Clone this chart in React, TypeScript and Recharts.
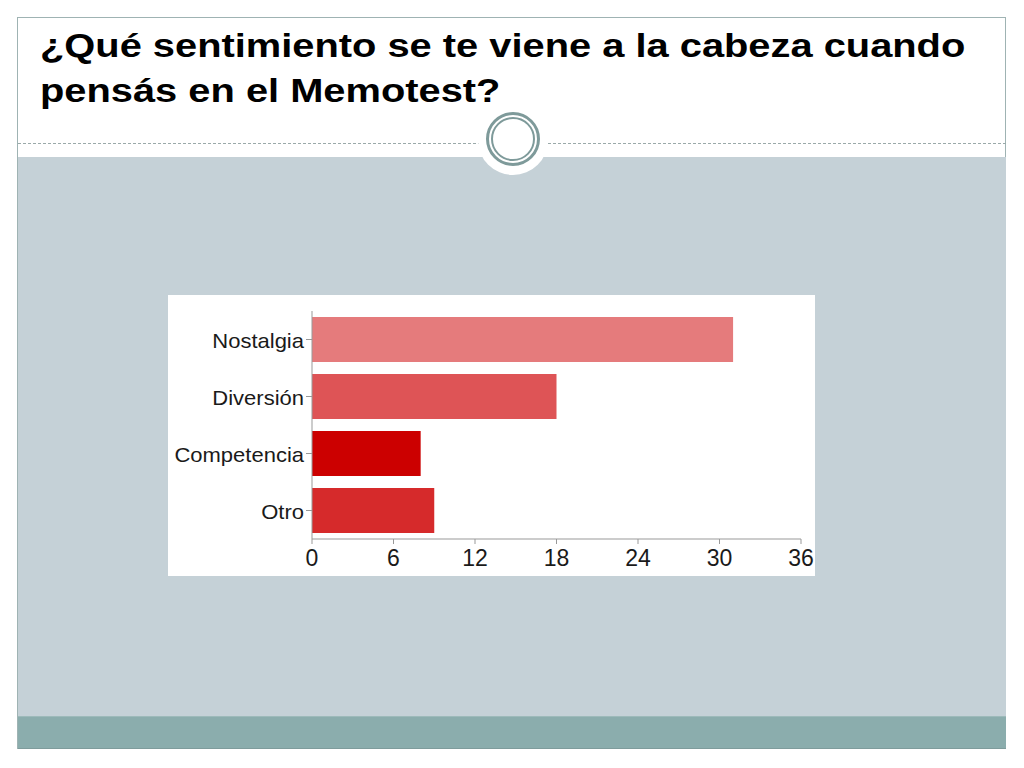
import { BarChart, Bar, XAxis, YAxis, Cell } from 'recharts'

const categories = ['Nostalgia', 'Diversión', 'Competencia', 'Otro']
const votes = [31, 18, 8, 9]
const barColors = ['#E57B7C', '#DE5456', '#CC0000', '#D62A2B']
const xTicks = [0, 6, 12, 18, 24, 30, 36]

const data = categories.map((name, i) => ({ name, value: votes[i] }))

const font = 'Liberation Sans, Arial, sans-serif'

// category labels look a bit stretched sideways in the source image
const CategoryTick = (props: any) => {
  const { x, y, payload } = props
  return (
    <text
      transform={`translate(${x},${y}) scale(1.1,1)`}
      textAnchor="end"
      dy={8}
      fill="#1a1a1a"
      fontSize={20}
      fontFamily={font}
    >
      {payload.value}
    </text>
  )
}

function App() {
  return (
    <div style={{ position: 'fixed', left: 0, top: 0, width: 1024, height: 768, background: '#fff', overflow: 'hidden' }}>
      {/* slide frame */}
      <div
        style={{
          position: 'absolute',
          left: 17,
          top: 17,
          width: 989,
          height: 732,
          border: '1px solid #9fb3b3',
          boxSizing: 'border-box',
          background: '#fff',
        }}
      />
      {/* gray body */}
      <div style={{ position: 'absolute', left: 18, top: 157, width: 988, height: 559, background: '#C5D1D7' }} />
      {/* teal footer */}
      <div
        style={{
          position: 'absolute',
          left: 18,
          top: 716,
          width: 988,
          height: 33,
          background: '#8BADAD',
          borderTop: '1px solid #9dbaba',
          borderBottom: '1px solid #7f9c9c',
          boxSizing: 'border-box',
        }}
      />
      {/* dotted separator */}
      <div style={{ position: 'absolute', left: 18, top: 143, width: 988, borderTop: '1px dashed #9aa9a9' }} />
      {/* circle ornament */}
      <div
        style={{
          position: 'absolute',
          left: 478,
          top: 105,
          width: 70,
          height: 70,
          borderRadius: '50%',
          background: '#fff',
        }}
      />
      <div
        style={{
          position: 'absolute',
          left: 486,
          top: 112,
          width: 54,
          height: 54,
          borderRadius: '50%',
          border: '3px solid #7E9A9A',
          boxSizing: 'border-box',
          background: '#fff',
        }}
      />
      <div
        style={{
          position: 'absolute',
          left: 491,
          top: 117,
          width: 44,
          height: 44,
          borderRadius: '50%',
          border: '2px solid #7E9A9A',
          boxSizing: 'border-box',
        }}
      />
      {/* title */}
      <div
        style={{
          position: 'absolute',
          left: 40,
          top: 23,
          width: 800,
          fontFamily: font,
          fontWeight: 'bold',
          fontSize: 33,
          lineHeight: '45px',
          color: '#000',
          whiteSpace: 'nowrap',
          transform: 'scaleX(1.207)',
          transformOrigin: 'left top',
        }}
      >
        ¿Qué sentimiento se te viene a la cabeza cuando
        <br />
        pensás en el Memotest?
      </div>
      {/* chart */}
      <div style={{ position: 'absolute', left: 168, top: 295, width: 647, height: 281, background: '#fff' }}>
        <BarChart
          width={647}
          height={281}
          data={data}
          layout="vertical"
          margin={{ top: 16, right: 14, left: 0, bottom: 0 }}
          barCategoryGap="10.5%"
        >
          <XAxis
            type="number"
            domain={[0, 36]}
            ticks={xTicks}
            interval={0}
            height={37}
            stroke="#999"
            tickSize={5}
            tickMargin={6}
            tick={{ fill: '#1a1a1a', fontSize: 23, fontFamily: font }}
          />
          <YAxis
            type="category"
            dataKey="name"
            width={144}
            stroke="#999"
            tickSize={6}
            tickMargin={2}
            tick={<CategoryTick />}
          />
          <Bar dataKey="value" isAnimationActive={false}>
            {data.map((d, i) => (
              <Cell key={d.name} fill={barColors[i]} />
            ))}
          </Bar>
        </BarChart>
      </div>
    </div>
  )
}

export default App
